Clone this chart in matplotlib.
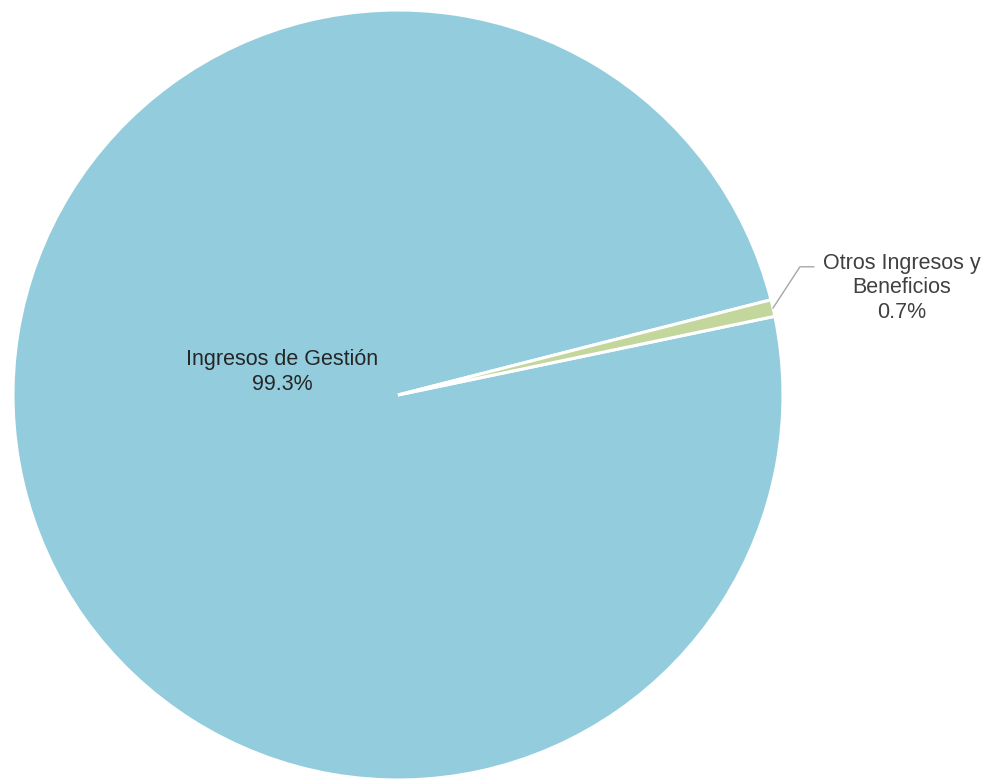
import matplotlib.pyplot as plt
import numpy as np

plt.rcParams['font.family'] = ['Liberation Sans', 'DejaVu Sans']

# datos del gráfico
categorias = ['Ingresos de Gestión', 'Otros Ingresos y\nBeneficios']
porcentajes = [99.3, 0.7]
colores = ['#93CDDD', '#C3D69B']

fig = plt.figure(figsize=(9.96, 7.81), dpi=100)
# eje cuadrado en píxeles: centro (398, 395), radio 385
ax = fig.add_axes([13 / 996, 1 / 781, 770 / 996, 770 / 781])

wedges, _ = ax.pie(porcentajes, colors=colores, startangle=11.8, counterclock=False,
                   radius=1, wedgeprops=dict(edgecolor='white', linewidth=2.2))
ax.set_xlim(-1, 1)
ax.set_ylim(-1, 1)
ax.axis('off')

# etiqueta del sector grande
ax.text(-0.301, 0.060, f'{categorias[0]}\n{porcentajes[0]}%', ha='center', va='center',
        fontsize=15.5, color='#262626', linespacing=1.2)

# etiqueta del sector pequeño con línea guía
w = wedges[1]
ang = np.deg2rad((w.theta1 + w.theta2) / 2)
x0, y0 = np.cos(ang), np.sin(ang)
ax.plot([x0, 1.044, 1.080], [y0, 0.333, 0.333], color='#A6A6A6', lw=1, clip_on=False)
ax.text(1.309, 0.278, f'{categorias[1]}\n{porcentajes[1]}%', ha='center', va='center',
        fontsize=15.5, color='#404040', linespacing=1.2)

fig.savefig('out.png', dpi=100)
